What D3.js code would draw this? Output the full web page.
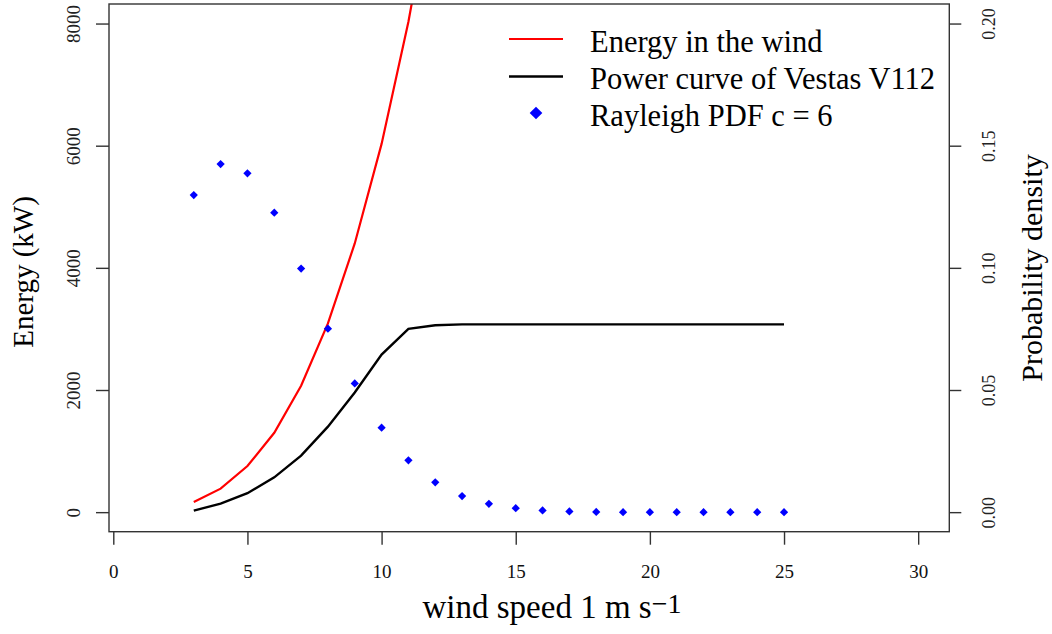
<!DOCTYPE html>
<html>
<head>
<meta charset="utf-8">
<script src="https://cdn.jsdelivr.net/npm/d3@7"></script>
<style>
  body { margin: 0; background: #fff; }
  svg { display: block; font-family: "Liberation Serif", "DejaVu Serif", serif; }
</style>
</head>
<body>
<svg class="chart" width="1052" height="634"></svg>
<script>
// wind speed (m/s)
const windSpeed = [3, 4, 5, 6, 7, 8, 9, 10, 11, 12, 13, 14, 15, 16, 17, 18, 19, 20, 21, 22, 23, 24, 25];
// energy in the wind (kW), only the part up to the top of the plot is visible
const windEnergy = [165, 385, 755, 1300, 2070, 3090, 4400, 6030, 8030, 10430];
// Vestas V112 power curve (kW)
const powerCurve = [26, 140, 310, 570, 925, 1400, 1960, 2580, 3000, 3060, 3075, 3075, 3075, 3075, 3075, 3075, 3075, 3075, 3075, 3075, 3075, 3075, 3075];
// Rayleigh PDF c = 6
const rayleigh = [0.1298, 0.1425, 0.1387, 0.1226, 0.0997, 0.0751, 0.0527, 0.0346, 0.0212, 0.0122, 0.0066, 0.0034, 0.0016, 0.0007, 0.0003, 0.0001, 0, 0, 0, 0, 0, 0, 0];

const xTicks = [0, 5, 10, 15, 20, 25, 30];
const energyTicks = [0, 2000, 4000, 6000, 8000];
const probTicks = [0, 0.05, 0.10, 0.15, 0.20];
const legendLabels = ["Energy in the wind", "Power curve of Vestas V112", "Rayleigh PDF c = 6"];

const box = {left: 109, right: 949.3, top: 4, bottom: 531.7};

const svg = d3.select(".chart");

const x = d3.scaleLinear().domain([-0.16, 31.16]).range([box.left, box.right]);
const yE = d3.scaleLinear().domain([-320, 8320]).range([box.bottom, box.top]);
const yP = d3.scaleLinear().domain([-0.008, 0.208]).range([box.bottom, box.top]);

svg.append("clipPath").attr("id", "plot-clip")
    .append("rect")
    .attr("x", box.left).attr("y", box.top)
    .attr("width", box.right - box.left).attr("height", box.bottom - box.top);

const plot = svg.append("g").attr("clip-path", "url(#plot-clip)");

const energyData = windEnergy.map((v, i) => ({x: windSpeed[i], y: v}));
const powerData = powerCurve.map((v, i) => ({x: windSpeed[i], y: v}));
const pdfData = rayleigh.map((v, i) => ({x: windSpeed[i], y: v}));

const line = d3.line().x(d => x(d.x)).y(d => yE(d.y));

plot.append("path")
    .datum(energyData)
    .attr("d", line)
    .style("fill", "none")
    .style("stroke", "#ff0000")
    .style("stroke-width", 2.2);

plot.append("path")
    .datum(powerData)
    .attr("d", line)
    .style("fill", "none")
    .style("stroke", "#000")
    .style("stroke-width", 2.4);

const diamond = d3.symbol(d3.symbolSquare, 34);

plot.selectAll(".pdf")
    .data(pdfData)
    .enter().append("path")
    .attr("class", "pdf")
    .attr("d", diamond)
    .attr("transform", d => `translate(${x(d.x)},${yP(d.y)}) rotate(45)`)
    .style("fill", "#0000ff");

// box
svg.append("rect")
    .attr("x", box.left).attr("y", box.top)
    .attr("width", box.right - box.left).attr("height", box.bottom - box.top)
    .style("fill", "none")
    .style("stroke", "#333")
    .style("stroke-width", 1.4);

// axes
const axisColour = "#333";
const tickFont = "19px";

const gx = svg.append("g")
    .attr("transform", `translate(0,${box.bottom})`)
    .call(d3.axisBottom(x).tickValues(xTicks).tickSize(13).tickSizeOuter(0).tickFormat(d3.format("d")));
gx.select(".domain").remove();
gx.selectAll(".tick line").style("stroke", axisColour).style("stroke-width", 1.4);
gx.selectAll(".tick text")
    .attr("y", 46).attr("dy", 0)
    .style("font-family", "Liberation Serif")
    .style("font-size", tickFont)
    .style("fill", "#111");

const gl = svg.append("g")
    .attr("transform", `translate(${box.left},0)`)
    .call(d3.axisLeft(yE).tickValues(energyTicks).tickSize(13).tickSizeOuter(0).tickFormat(d3.format("d")));
gl.select(".domain").remove();
gl.selectAll(".tick line").style("stroke", axisColour).style("stroke-width", 1.4);
gl.selectAll(".tick text")
    .attr("transform", "rotate(-90)")
    .attr("x", 0).attr("y", -29).attr("dy", 0)
    .attr("text-anchor", "middle")
    .style("font-family", "Liberation Serif")
    .style("font-size", tickFont)
    .style("fill", "#222");

const gr = svg.append("g")
    .attr("transform", `translate(${box.right},0)`)
    .call(d3.axisRight(yP).tickValues(probTicks).tickSize(12).tickSizeOuter(0).tickFormat(d3.format(".2f")));
gr.select(".domain").remove();
gr.selectAll(".tick line").style("stroke", axisColour).style("stroke-width", 1.4);
gr.selectAll(".tick text")
    .attr("transform", "rotate(-90)")
    .attr("x", 0).attr("y", 45.5).attr("dy", 0)
    .attr("text-anchor", "middle")
    .style("font-family", "Liberation Serif")
    .style("font-size", "18px")
    .style("fill", "#222");

// axis titles
svg.append("text")
    .attr("transform", "translate(33,272) rotate(-90)")
    .attr("text-anchor", "middle")
    .style("font-size", "29px")
    .text("Energy (kW)");

svg.append("text")
    .attr("transform", "translate(1042,268) rotate(-90)")
    .attr("text-anchor", "middle")
    .style("font-size", "30px")
    .text("Probability density");

const xTitle = svg.append("text")
    .attr("x", 552).attr("y", 618)
    .attr("text-anchor", "middle")
    .style("font-size", "33px");
xTitle.append("tspan").text("wind speed 1 m s");
xTitle.append("tspan").attr("dy", -5).style("font-size", "28px").text("\u22121");

// legend
const legend = svg.append("g");
const rowY = [39, 76.5, 113];

legend.append("line")
    .attr("x1", 509).attr("x2", 563).attr("y1", rowY[0]).attr("y2", rowY[0])
    .style("stroke", "#ff0000").style("stroke-width", 2.2);
legend.append("line")
    .attr("x1", 509).attr("x2", 563).attr("y1", rowY[1]).attr("y2", rowY[1])
    .style("stroke", "#000").style("stroke-width", 2.6);
legend.append("path")
    .attr("d", d3.symbol(d3.symbolSquare, 80))
    .attr("transform", `translate(536,${rowY[2]}) rotate(45)`)
    .style("fill", "#0000ff");

legend.selectAll(".legend-text")
    .data(legendLabels)
    .enter().append("text")
    .attr("class", "legend-text")
    .attr("x", 590)
    .attr("y", (d, i) => rowY[i] + 12.5)
    .style("font-size", "30.5px")
    .text(d => d);
</script>
</body>
</html>
